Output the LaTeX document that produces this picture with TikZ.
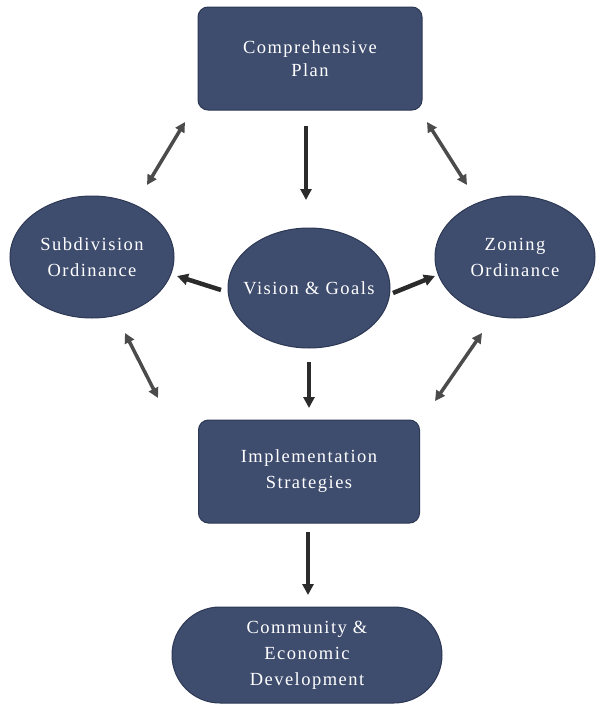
\documentclass[tikz,border=0pt]{standalone}
\usepackage{fontspec}
\setmainfont{Liberation Serif}[LetterSpace=8]
\usetikzlibrary{shapes.geometric,arrows.meta}
\definecolor{boxfill}{RGB}{62,76,110}
\definecolor{boxline}{RGB}{45,56,84}
\definecolor{arrowgray}{RGB}{43,43,43}
\begin{document}
\begin{tikzpicture}[x=1pt,y=-1pt,
  every node/.style={text=white,font=\fontsize{18.5}{26}\selectfont,align=center,inner sep=0pt},
  boxnode/.style={draw=boxline,line width=1pt,fill=boxfill,rectangle,rounded corners=10pt},
  ovalnode/.style={draw=boxline,line width=1pt,fill=boxfill,ellipse},
  arr/.style={draw=arrowgray,line width=4.5pt,-{Triangle[length=11pt,width=11pt]}},
  dblarr/.style={draw=arrowgray!85,line width=3.5pt,{Triangle[length=10pt,width=10pt]}-{Triangle[length=10pt,width=10pt]}}]
\useasboundingbox (0,0) rectangle (597,704);
\node[boxnode,minimum width=224pt,minimum height=103pt,font=\fontsize{18.5}{23}\selectfont] (plan) at (310,58.5) {Comprehensive\\Plan};
\node[ovalnode,minimum width=164pt,minimum height=122pt] (sub) at (92,257) {Subdivision\\Ordinance};
\node[ovalnode,inner xsep=-12pt,minimum width=162pt,minimum height=120pt] (vis) at (309,288) {Vision \& Goals};
\node[ovalnode,minimum width=160pt,minimum height=122pt] (zon) at (515,257) {Zoning\\Ordinance};
\node[boxnode,minimum width=221pt,minimum height=103pt] (impl) at (309,471.5) {Implementation\\Strategies};
\node[boxnode,rounded corners=48pt,minimum width=270pt,minimum height=96pt] (comm) at (307,655) {Community \&\\Economic\\Development};
% arrow end points
\coordinate (p1) at (306,126); \coordinate (v1) at (306,200);
\coordinate (v2) at (221,290); \coordinate (s2) at (177,276);
\coordinate (v3) at (393,293); \coordinate (z3) at (435,276);
\coordinate (v4) at (309,362); \coordinate (i4) at (309,408);
\coordinate (i5) at (308,532); \coordinate (c5) at (308,595);
\coordinate (p6) at (185,122); \coordinate (s6) at (147,185);
\coordinate (p7) at (427,122); \coordinate (z7) at (467,185);
\coordinate (s8) at (125,333); \coordinate (i8) at (158,398);
\coordinate (z9) at (482,333); \coordinate (i9) at (435,401);
\draw[arr] (p1) -- (v1);
\draw[arr] (v2) -- (s2);
\draw[arr] (v3) -- (z3);
\draw[arr] (v4) -- (i4);
\draw[arr] (i5) -- (c5);
\draw[dblarr] (p6) -- (s6);
\draw[dblarr] (p7) -- (z7);
\draw[dblarr] (s8) -- (i8);
\draw[dblarr] (z9) -- (i9);
\end{tikzpicture}
\end{document}
